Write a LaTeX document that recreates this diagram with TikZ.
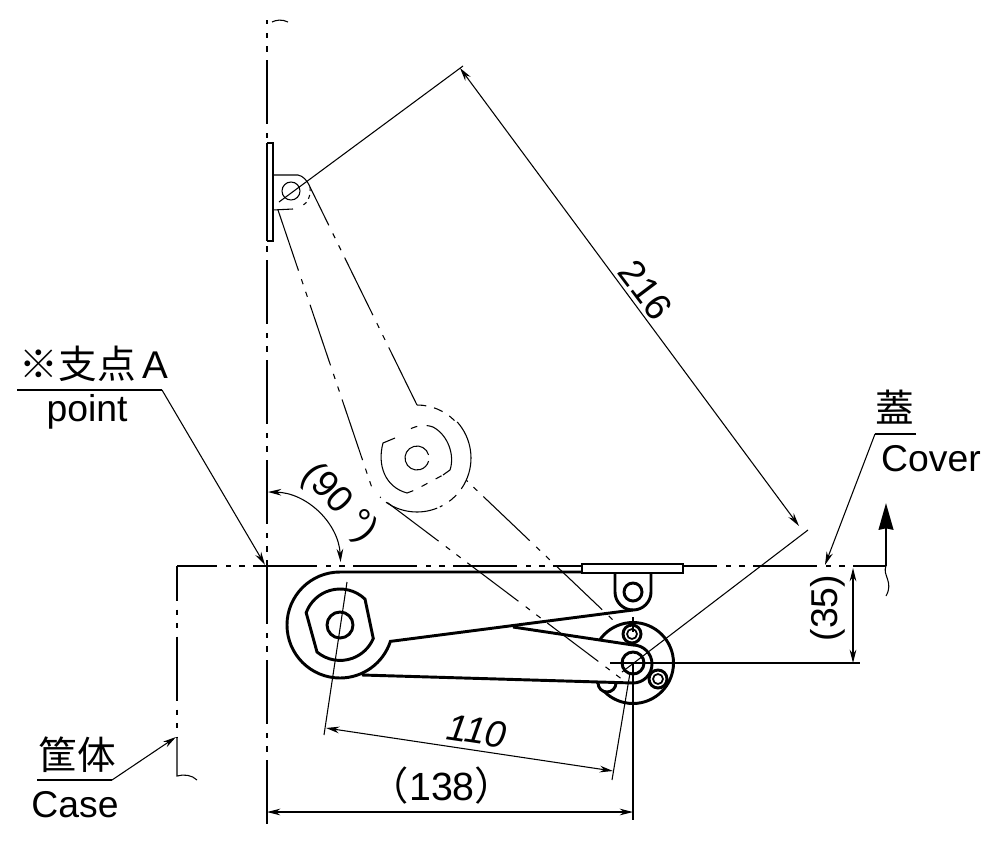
\documentclass[tikz,border=0pt]{standalone}
\usepackage{fontspec}
\setmainfont{Liberation Sans}
\newfontfamily\cjk{Noto Sans CJK JP}
\usetikzlibrary{arrows.meta,positioning}
\tikzset{
  thinline/.style={line width=.8pt},
  thickline/.style={line width=2.2pt},
  midline/.style={line width=1.3pt},
  phantom/.style={line width=.8pt,dash pattern=on 48pt off 6.75pt on 4pt off 6pt on 4pt off 6.25pt},
  dim/.style={line width=.8pt,{Stealth[length=10pt,width=5pt]}-{Stealth[length=10pt,width=5pt]}},
  leader/.style={line width=.8pt,-{Stealth[length=10pt,width=5pt]}},
  lbl/.style={font=\fontsize{28}{30}\selectfont,inner sep=0pt},
  jplbl/.style={font=\cjk\fontsize{29}{32}\selectfont,inner sep=0pt},
}
\begin{document}
\begin{tikzpicture}[x=.75pt,y=-.75pt]
   \useasboundingbox (0,0) rectangle (1000,850);
   % named points
   \coordinate (piv) at (340,625);
   \coordinate (hub) at (633,663);
   \coordinate (brk) at (633,592);
   \coordinate (top) at (291,191);
   \coordinate (gho) at (417,458);
   % centre lines
   \draw[phantom,dash phase=45pt] (267,20) -- (267,830);
   \draw[phantom,dash phase=18pt] (177,566) -- (886,566);
   \draw[phantom,dash phase=22pt] (177,566) -- (177,737);
   \draw[thinline] (272,22) .. controls (276,20) and (282,19) .. (288,22);
   \draw[thinline] (177,737) -- (177,776) .. controls (184,774) and (192,775) .. (197,780);
   % ghost position
   \draw[midline] (267,143) -- (273,143) -- (273,241) -- (267,241);
   \draw[thinline] (267,143) -- (267,241);
   \draw[thinline] (273,175) -- (298,175) .. controls (303,176) and (307,180) .. (310,187);
   \draw[thinline] (273,210) -- (293,209);
   \draw[thinline,dashed] (310,187) .. controls (311,195) and (308,203) .. (302,206);
   \draw[thinline] (top) circle[radius=9];
   \draw[phantom,dash phase=16pt] (310,187) -- (417,405);
   \draw[phantom] (278,210) -- (372,488);
   \draw[thinline,dash pattern=on 7pt off 6pt] (417,405) arc[start angle=-90,end angle=-45,radius=53];
   \draw[thinline] (gho) ++(-42:54) arc[start angle=-42,end angle=25,radius=54];
   \draw[thinline,dash pattern=on 7pt off 6pt] (gho) ++(25:54) arc[start angle=25,end angle=65,radius=54];
   \draw[thinline] (gho) ++(68:54) arc[start angle=68,end angle=125,radius=54];
   \draw[thinline] (395,438) -- (383,443) .. controls (377,465) and (385,487) .. (407,493);
   \draw[thinline,dash pattern=on 5pt off 7pt] (407,493) -- (415,490) -- (443,475);
   \draw[thinline] (443,475) -- (450,470) .. controls (455,455) and (448,435) .. (433,427);
   \draw[thinline,dash pattern=on 5pt off 7pt] (433,427) .. controls (425,424) and (415,425) .. (403,433);
   \draw[thinline] (gho) ++(-15:12) arc[start angle=-15,end angle=-345,radius=12];
   % main position
   \draw[thickline,fill=white] (hub) circle[radius=40.5];
   \draw[thickline,fill=white] (607,683) circle[radius=9];
   \draw[thickline,fill=white] (632,634) circle[radius=9];
   \draw[midline] (632,634) circle[radius=5];
   \draw[thickline,fill=white] (658,679) circle[radius=9];
   \draw[midline] (658,679) circle[radius=5];
   \fill[white] (362,675) -- (633,683) arc[start angle=90,end angle=-90,radius=19]
       -- (513,627) -- cycle;
   \draw[thickline] (513,627) -- (633,645) arc[start angle=-90,end angle=90,radius=19] -- (362,675);
   \draw[thickline] (582,572) -- (340,572) arc[start angle=-90,end angle=-342,radius=53] -- (633,610);
   \draw[thickline] (615,573) -- (615,592) arc[start angle=180,end angle=0,radius=18] -- (651,573);
   \draw[midline,fill=white] (582,564) rectangle (683,573);
   \draw[thickline] (brk) circle[radius=9];
   \draw[thickline] (piv) circle[radius=13];
   \draw[thickline] (piv) ++(-46:36) arc[start angle=-46,end angle=-160,radius=36]
       -- (317,652) arc[start angle=130,end angle=23,radius=36] -- cycle;
   \draw[thickline] (hub) circle[radius=11];
   % ghost to main
   \draw[phantom,dash phase=57pt] (466,480) -- (613,620);
   \draw[phantom,dash phase=68pt] (380,497) -- (623,680);
   % extension lines
   \coordinate (e1a) at (279,202); \coordinate (e1b) at (463,66);
   \coordinate (e2a) at (622,672); \coordinate (e2b) at (808,530);
   \draw[thinline] (e1a) -- (e1b);
   \draw[thinline] (e2a) -- (e2b);
   \draw[thinline] (347,582) -- (324,735);
   \draw[thinline] (630,673) -- (612,780);
   \draw[thinline] (633,617) -- (633,632);
   \draw[thinline] (633,663) -- (633,820);
   \draw[thinline] (610,663) -- (860,663);
   % dimensions
   \coordinate (d1a) at (460,68); \coordinate (d1b) at (799,526);
   \draw[dim] (d1a) -- (d1b);
   \node[lbl,rotate=-53] (n216) at (646,290) {216};
   \coordinate (d2a) at (326,728); \coordinate (d2b) at (613,771);
   \draw[dim] (d2a) -- (d2b);
   \node[lbl,rotate=-8.5] (n110) at (477,731) {\itshape 110};
   \coordinate (d3a) at (267,812); \coordinate (d3b) at (633,812);
   \draw[dim] (d3a) -- (d3b);
   \node[lbl,font=\fontsize{29.5}{30}\selectfont] (n138) at (442,786) {{\cjk （}138{\cjk ）}};
   \coordinate (d4a) at (853,568); \coordinate (d4b) at (853,663);
   \draw[dim] (d4a) -- (d4b);
   \node[lbl,rotate=90] (n35) at (828,608) {(35)};
   \draw[dim] (268,492) arc[start angle=-89,end angle=-3,radius=74];
   \node[lbl,rotate=-47] (n90) at (339,503) {(90 °)};
   % leaders
   \node[jplbl] (supp) at (94,364) {※支点\,\rmfamily A};
   \node[lbl] (poin) at (87,412) {point};
   \coordinate (l1a) at (17,390); \coordinate (l1b) at (162,390); \coordinate (l1c) at (265,565);
   \draw[thinline] (l1a) -- (l1b);
   \draw[leader] (l1b) -- (l1c);
   \node[jplbl] (futa) at (895,407) {蓋};
   \node[lbl] (cove) at (931,459) {Cover};
   \coordinate (l2a) at (916,434); \coordinate (l2b) at (875,434); \coordinate (l2c) at (825,565);
   \draw[thinline] (l2a) -- (l2b);
   \draw[leader] (l2b) -- (l2c);
   \node[jplbl] (kyou) at (77,755) {筐体};
   \node[lbl] (case) at (75,805) {Case};
   \coordinate (l3a) at (37,780); \coordinate (l3b) at (112,780); \coordinate (l3c) at (176,737);
   \draw[thinline] (l3a) -- (l3b);
   \draw[leader] (l3b) -- (l3c);
   % opening arrow
   \coordinate (upa) at (886,566); \coordinate (upb) at (886,503);
   \draw[line width=1.9pt,-{Stealth[length=20pt,width=11pt,inset=1pt]}] (upa) -- (upb);
   \draw[thinline] (upa) .. controls (882,575) and (894,582) .. (886,596);
\end{tikzpicture}
\end{document}
